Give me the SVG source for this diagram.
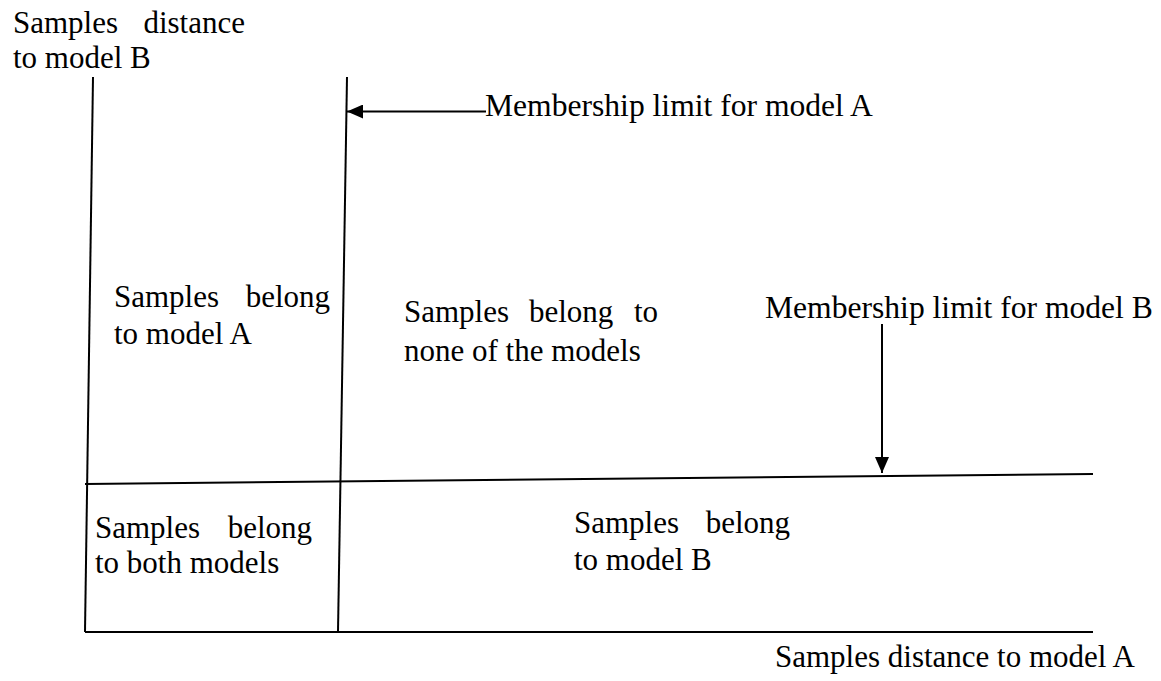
<svg xmlns="http://www.w3.org/2000/svg" width="1161" height="681" viewBox="0 0 1161 681">
<style>
  text { font-family: "Liberation Serif", "Times New Roman", serif; font-size: 31px; fill: #000; }
  .ln { stroke: #000; stroke-width: 2; fill: none; }
</style>
<defs>
  <marker id="ah" markerUnits="userSpaceOnUse" markerWidth="16" markerHeight="14" refX="16" refY="7" orient="auto">
    <path d="M0,0 L16,7 L0,14 z" fill="#000"/>
  </marker>
</defs>
<rect width="1161" height="681" fill="#fff"/>
<g id="axes">
  <line class="ln" x1="93" y1="77" x2="85" y2="632"/>
  <line class="ln" x1="85" y1="632" x2="1093" y2="632"/>
  <line class="ln" x1="347" y1="77" x2="338" y2="632"/>
  <line class="ln" x1="85" y1="484" x2="1093" y2="474"/>
</g>
<g id="axis-labels">
  <text x="13" y="33">Samples</text>
  <text x="245" y="33" text-anchor="end">distance</text>
  <text x="13" y="68">to model B</text>
  <text x="775" y="667">Samples distance to model A</text>
</g>
<g id="region-a">
  <text x="114" y="307">Samples</text>
  <text x="330" y="307" text-anchor="end">belong</text>
  <text x="114" y="344">to model A</text>
</g>
<g id="region-none">
  <text x="404" y="322">Samples</text>
  <text x="529" y="322">belong</text>
  <text x="658" y="322" text-anchor="end">to</text>
  <text x="404" y="361">none of the models</text>
</g>
<g id="region-both">
  <text x="95" y="538">Samples</text>
  <text x="312" y="538" text-anchor="end">belong</text>
  <text x="95" y="573">to both models</text>
</g>
<g id="region-b">
  <text x="574" y="533">Samples</text>
  <text x="790" y="533" text-anchor="end">belong</text>
  <text x="574" y="570">to model B</text>
</g>
<g id="limit-a">
  <text x="485" y="116" style="font-size:31.6px">Membership limit for model A</text>
</g>
<g id="limit-b">
  <text x="765" y="318" style="font-size:31.6px">Membership limit for model B</text>
</g>
<g id="connectors">
  <line class="ln" x1="486" y1="111.5" x2="347" y2="111.5" marker-end="url(#ah)"/>
  <line class="ln" x1="882" y1="324" x2="882" y2="473" marker-end="url(#ah)"/>
</g>
</svg>
